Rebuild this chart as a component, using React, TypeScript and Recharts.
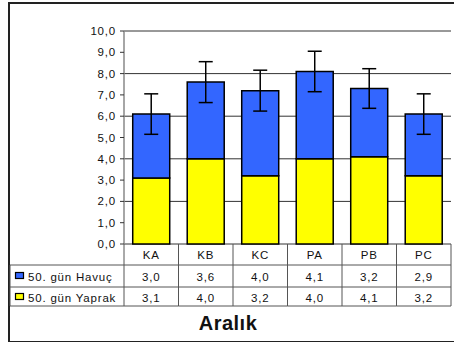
import React from "react";
import { BarChart, Bar, XAxis, YAxis, CartesianGrid, ErrorBar } from "recharts";

const categories = ["KA", "KB", "KC", "PA", "PB", "PC"];
const havucValues = [3.0, 3.6, 4.0, 4.1, 3.2, 2.9];
const yaprakValues = [3.1, 4.0, 3.2, 4.0, 4.1, 3.2];
const totalErrors = [0.95, 0.96, 0.96, 0.95, 0.93, 0.95];
const yTicks = [0, 1, 2, 3, 4, 5, 6, 7, 8, 9, 10];
const seriesLabels = { havuc: "50. gün Havuç", yaprak: "50. gün Yaprak" };
const axisTitle = "Aralık";

const data = categories.map((c, i) => ({
  name: c,
  yaprak: yaprakValues[i],
  havuc: havucValues[i],
  err: totalErrors[i],
}));

const W = 454;
const H = 342;
const PLOT_LEFT = 124;
const PLOT_RIGHT = 451;
const PLOT_TOP = 31;
const PLOT_BOTTOM = 244;
const BAND = (PLOT_RIGHT - PLOT_LEFT) / categories.length;
const FONT = "'Liberation Sans', Arial, sans-serif";
const BLUE = "#3366FF";
const YELLOW = "#FFFF00";
const LINE = "#555";

const fmt = (v: number) => v.toFixed(1).replace(".", ",");

const txtStyle = { fontFamily: FONT, fontSize: 11.5, fill: "#111", letterSpacing: 0.8 };

// x-axis tick draws a whole column of the data table under the bars
function TableColumn(props: any) {
  const { x, y, payload } = props;
  const i = categories.indexOf(payload.value);
  const l = x - BAND / 2;
  const r = x + BAND / 2;
  const r1 = y + 21;
  const r2 = y + 43;
  const r3 = y + 62;
  return (
    <g>
      <text x={x} y={y + 15} textAnchor="middle" {...txtStyle}>{payload.value}</text>
      <text x={x} y={r1 + 16} textAnchor="middle" {...txtStyle}>{fmt(havucValues[i])}</text>
      <text x={x} y={r2 + 15} textAnchor="middle" {...txtStyle}>{fmt(yaprakValues[i])}</text>
      <line x1={r} x2={r} y1={y} y2={r3} stroke={LINE} strokeWidth={1} />
      {[r1, r2, r3].map((yy) => (
        <line key={yy} x1={l} x2={r} y1={yy} y2={yy} stroke={LINE} strokeWidth={1} />
      ))}
      {i === 0 && (
        <g>
          <line x1={l} x2={l} y1={y} y2={r3} stroke={LINE} strokeWidth={1} />
          <line x1={10} x2={10} y1={r1} y2={r3} stroke={LINE} strokeWidth={1} />
          {[r1, r2, r3].map((yy) => (
            <line key={yy} x1={10} x2={l} y1={yy} y2={yy} stroke={LINE} strokeWidth={1} />
          ))}
          <rect x={15.5} y={r1 + 7.5} width={8} height={6} fill={BLUE} stroke="#000" strokeWidth={1.2} />
          <text x={28} y={r1 + 16} {...txtStyle}>{seriesLabels.havuc}</text>
          <rect x={15.5} y={r2 + 6.5} width={8} height={6} fill={YELLOW} stroke="#000" strokeWidth={1.2} />
          <text x={28} y={r2 + 15} {...txtStyle}>{seriesLabels.yaprak}</text>
        </g>
      )}
    </g>
  );
}

export default function App() {
  return (
    <div style={{ position: "absolute", left: 0, top: 0, width: W, height: H, background: "#fff" }}>
      <div
        style={{
          position: "absolute",
          left: 8,
          top: 2,
          width: 470,
          height: 337,
          borderLeft: "2px solid #222",
          borderTop: "2px solid #222",
          borderBottom: "2px solid #222",
        }}
      />
      <BarChart
        width={W}
        height={H}
        data={data}
        margin={{ top: PLOT_TOP, right: W - PLOT_RIGHT, bottom: 0, left: 0 }}
        barCategoryGap="16%"
      >
        <CartesianGrid vertical={false} stroke="#333" strokeWidth={1} />
        <XAxis
          dataKey="name"
          height={H - PLOT_BOTTOM}
          axisLine={false}
          tickLine={false}
          tickSize={0}
          tickMargin={0}
          interval={0}
          tick={<TableColumn />}
        />
        <YAxis
          width={PLOT_LEFT}
          domain={[0, 10]}
          ticks={yTicks}
          tickFormatter={fmt}
          tickSize={4}
          tickMargin={4}
          axisLine={{ stroke: "#888", strokeWidth: 1.5 }}
          tickLine={{ stroke: "#333" }}
          tick={txtStyle}
        />
        <Bar dataKey="yaprak" stackId="a" fill={YELLOW} stroke="#000" strokeWidth={1.5} isAnimationActive={false} />
        <Bar dataKey="havuc" stackId="a" fill={BLUE} stroke="#000" strokeWidth={1.5} isAnimationActive={false}>
          <ErrorBar dataKey="err" width={7} stroke="#000" strokeWidth={1.5} direction="y" />
        </Bar>
      </BarChart>
      <div
        style={{
          position: "absolute",
          left: 8,
          width: 440,
          top: 312,
          textAlign: "center",
          fontFamily: FONT,
          fontWeight: "bold",
          fontSize: 20,
          letterSpacing: 0.5,
          color: "#111",
        }}
      >
        {axisTitle}
      </div>
    </div>
  );
}
